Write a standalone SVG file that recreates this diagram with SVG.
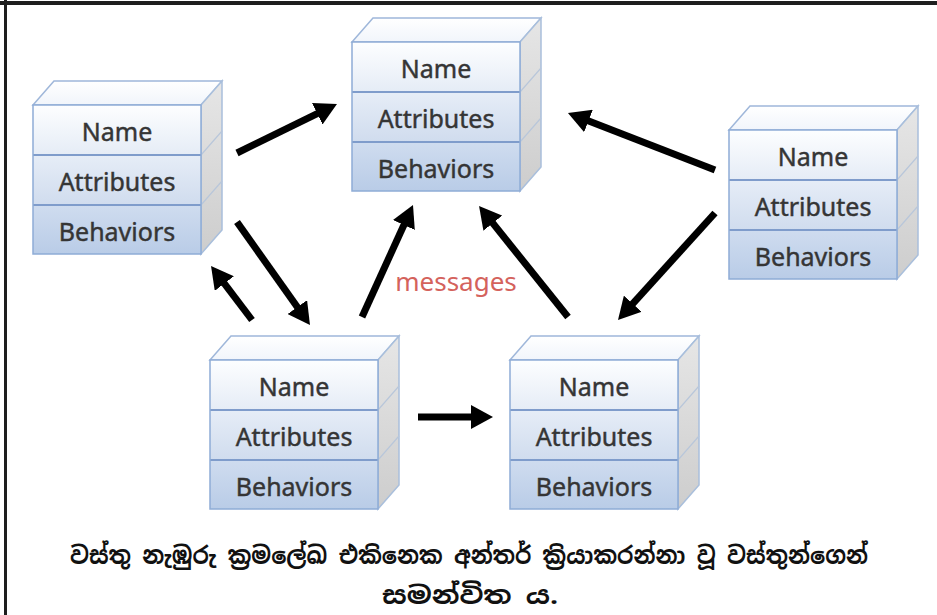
<svg xmlns="http://www.w3.org/2000/svg" xmlns:xlink="http://www.w3.org/1999/xlink" width="937" height="615" viewBox="0 0 937 615">
<style>
.lbl{font-family:"Noto Sans","Open Sans","Liberation Sans",sans-serif;font-size:25px;fill:#353535;stroke:#353535;stroke-width:0.45;text-anchor:middle}
.msg{font-family:"Noto Sans","Open Sans","Liberation Sans",sans-serif;font-size:26px;fill:#d4625c;text-anchor:middle}
.cap{font-family:"Noto Sans Sinhala","Iskoola Pota","Noto Serif Sinhala","Noto Sans",sans-serif;font-size:24px;font-weight:bold;fill:#111;text-anchor:middle}
.conn line{stroke:#000;stroke-width:7;marker-end:url(#ah)}
.edge{fill:none;stroke:#8eacd6;stroke-width:1.5}
.div{stroke:#7f9ccb;stroke-width:2}
</style>
<defs>
<linearGradient id="gName" x1="0" y1="0" x2="0" y2="1"><stop offset="0" stop-color="#fdfeff"/><stop offset="1" stop-color="#e5ecf6"/></linearGradient>
<linearGradient id="gAttr" x1="0" y1="0" x2="0" y2="1"><stop offset="0" stop-color="#e6edf7"/><stop offset="1" stop-color="#d0dcee"/></linearGradient>
<linearGradient id="gBeh" x1="0" y1="0" x2="0" y2="1"><stop offset="0" stop-color="#cfdcef"/><stop offset="1" stop-color="#b9cce7"/></linearGradient>
<linearGradient id="gSide" x1="0" y1="0" x2="0" y2="1"><stop offset="0" stop-color="#e6e6e6"/><stop offset="1" stop-color="#cdcdcd"/></linearGradient>
<linearGradient id="gTop" x1="0" y1="0" x2="0" y2="1"><stop offset="0" stop-color="#ffffff"/><stop offset="1" stop-color="#f1f5fb"/></linearGradient>
<marker id="ah" markerUnits="userSpaceOnUse" markerWidth="22" markerHeight="24" viewBox="0 0 22 24" refX="8" refY="12" orient="auto">
<path d="M0,0 L22,12 L0,24 z" fill="#000"/>
</marker>
<g id="box">
<polygon points="0,0 21,-24 189,-24 168,0" fill="url(#gTop)" stroke="#9fb7da" stroke-width="1.5"/>
<polygon points="168,0 189,-24 189,125 168,149" fill="url(#gSide)" stroke="#a9bfdc" stroke-width="1.5"/>
<line x1="168" y1="50" x2="189" y2="26" stroke="#b8c6da" stroke-width="1.2"/>
<line x1="168" y1="100" x2="189" y2="76" stroke="#b8c6da" stroke-width="1.2"/>
<rect x="0" y="0" width="168" height="50" fill="url(#gName)"/>
<rect x="0" y="50" width="168" height="50" fill="url(#gAttr)"/>
<rect x="0" y="100" width="168" height="49" fill="url(#gBeh)"/>
<line class="div" x1="0" y1="50" x2="168" y2="50"/>
<line class="div" x1="0" y1="100" x2="168" y2="100"/>
<rect class="edge" x="0" y="0" width="168" height="149"/>
</g>
</defs>
<rect x="0" y="0" width="937" height="615" fill="#ffffff"/>
<g id="frame">
<line x1="0" y1="3" x2="937" y2="3" stroke="#1e1e1e" stroke-width="4"/>
<line x1="5.5" y1="0" x2="5.5" y2="615" stroke="#1e1e1e" stroke-width="3"/>
</g>
<g id="node1" transform="translate(33,105)">
<use xlink:href="#box"/>
<text class="lbl" x="84" y="36">Name</text>
<text class="lbl" x="84" y="86">Attributes</text>
<text class="lbl" x="84" y="136">Behaviors</text>
</g>
<g id="node2" transform="translate(352,42)">
<use xlink:href="#box"/>
<text class="lbl" x="84" y="36">Name</text>
<text class="lbl" x="84" y="86">Attributes</text>
<text class="lbl" x="84" y="136">Behaviors</text>
</g>
<g id="node3" transform="translate(729,130)">
<use xlink:href="#box"/>
<text class="lbl" x="84" y="36">Name</text>
<text class="lbl" x="84" y="86">Attributes</text>
<text class="lbl" x="84" y="136">Behaviors</text>
</g>
<g id="node4" transform="translate(210,360)">
<use xlink:href="#box"/>
<text class="lbl" x="84" y="36">Name</text>
<text class="lbl" x="84" y="86">Attributes</text>
<text class="lbl" x="84" y="136">Behaviors</text>
</g>
<g id="node5" transform="translate(510,360)">
<use xlink:href="#box"/>
<text class="lbl" x="84" y="36">Name</text>
<text class="lbl" x="84" y="86">Attributes</text>
<text class="lbl" x="84" y="136">Behaviors</text>
</g>
<g id="connectors" class="conn">
<line x1="237" y1="153" x2="324.4" y2="110.2"/>
<line x1="715" y1="170" x2="581" y2="118.1"/>
<line x1="715" y1="213" x2="627.4" y2="309.6"/>
<line x1="568" y1="317" x2="487.8" y2="216.9"/>
<line x1="362" y1="317" x2="407.2" y2="217.7"/>
<line x1="237" y1="222" x2="301.9" y2="313.6"/>
<line x1="252" y1="320" x2="219.5" y2="277.2"/>
<line x1="418" y1="417" x2="479" y2="417"/>
</g>
<text class="msg" x="456" y="291">messages</text>
<g id="caption">
<text class="cap" x="469" y="564" textLength="798" lengthAdjust="spacingAndGlyphs">වස්තු නැඹුරු ක්&#x200D;රමලේඛ එකිනෙක අන්තර් ක්&#x200D;රියාකරන්නා වූ වස්තුන්ගෙන්</text>
<text class="cap" x="470" y="604" textLength="176" lengthAdjust="spacingAndGlyphs">සමන්විත ය.</text>
</g>
</svg>
